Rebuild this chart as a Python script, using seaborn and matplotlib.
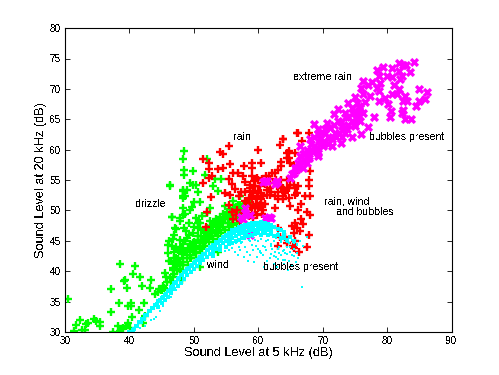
import matplotlib
matplotlib.use('Agg')
import matplotlib.pyplot as plt
import seaborn as sns

# sound level at 5 kHz / 20 kHz (dB)
drizzle_x = [30.5,31.4,31.8,32.4,32.6,33.1,33.6,33.3,34.5,34.9,35.5,35.4,37.1,37.1,38.4,38.6,39.2,39.4,39.6,40.5,40.9,41.7,42.0,43.2,43.4,39.8,40.2,40.2,41.5,42.2,40.4,42.5,42.1,37.5,38.3,38.5,38.8,39.0,39.5,39.8,40.1,44.4,45.0,45.5,45.7,46.8,46.1,
             46.3,48.3,48.6,48.4,49.0,48.4,48.6,46.6,47.9,48.5,47.2,47.0,46.8,46.2,46.0,48.1,49.0,47.5,47.0,46.5,48.3,47.9,
             48.5,48.3,52,48.5,48.5,49.9,51.7,49.4,49.9,50.4,48.4,48.4,50.7,53.3,54.3,53,53.8,46.3,50,51,49.7,49.4,52.5,52,54.8,57.2,56.1,56.9,56.4,57.4,58.7,48.4,47.9,46.6,47.1,50.4,51,50.7,51.5,
             46.8,47.3,47.9,46.9,47.9,48.9,49.4,49.9,50.2,51,51.5,52,52.8,53,54,54.6,55.4,55.6,53.8,51,48.1,48.4,49.4,50.4,49.1,47.9,52,50.7,49.9,52.5,53.5,54,53.3,51.2,47.3,46.8,48.4,
             44.6,45.2,45.8,46.3,46.9,47.4,47.9,48.4,48.9,49.4,49.9,50.4,50.9,51.4,51.9,52.4,52.9,53.4,53.9,54.4,54.9,55.4,55.9,56.4,56.9,57.4,
             47.1,47.6,48.1,48.6,49.1,49.6,50.1,50.6,51.1,51.6,52.1,52.6,53.1,53.6,54.1,54.6,55.1,55.6,56.1,56.6,57.1,57.6,58.1,
             44,44.9,45.4,46.5,46,46.6,47.2,47.8,48.6,49.3,50,49.2,50.6,51.2,48.8,
             49.5,50.3,51,51.7,52.4,53,53.7,54.3,54.9,55.5,56.1,56.7,57.3,50.9,51.8,52.7,53.6,54.5,55.3,56,56.8,57.5,58.2]
drizzle_y = [35.4,30.2,31.2,32.0,30.3,30.3,31.4,31.3,32.2,31.8,31.7,31.0,33.3,37.1,34.8,41.2,38.3,38.6,37.2,39.6,40.9,39.0,37.6,37.2,38.5,34.2,34.7,34.3,33.6,34.7,32.4,32.6,31.5,30.05,31.0,30.1,30.4,30.7,30.9,31.4,30.6,36.5,36.9,39.7,39.0,40.5,41.6,
             54.1,53.2,52.3,52.0,53.3,50.4,49.4,48.9,48.7,47.1,46.9,45.9,45.3,44.9,44.3,43.7,43.3,43.5,42.2,41.6,41.0,40.4,
             59.8,58.5,58.5,56.6,55.9,56.5,55.9,54.5,54.2,54.2,53.3,52.3,53.1,55.1,55.1,54,53.2,54,51.3,51.3,50.6,50,50.4,49.6,50.7,52.3,51.5,50.9,50.1,49.9,51.1,49.3,48.2,48.9,47.1,48.8,47.9,47.1,46.8,
             39.1,40.8,41.3,43.2,45.2,45.4,44.4,44.6,43.2,44.1,44.6,45.7,46.3,47.4,47.6,48.5,47.9,48.9,43.1,40.7,38.6,42.1,42.1,42.1,41,40,47.1,45.7,46.3,48.2,48.5,46.8,46.3,43,42.1,40.2,44.4,
             37,37.5,38.2,38.8,39.5,40.2,41,41.5,42.2,42.7,43.4,43.9,44.6,45.2,45.6,46.2,46.6,47.2,47.6,48,48.6,49,49.4,49.6,49.8,50.2,
             41.4,42,42.8,43.2,43.8,44.2,44.8,45.2,45.8,46.4,47,47.4,47.9,48.3,48.9,49.4,49.8,50.2,50.4,50.6,50.9,51,50.5,
             36.2,36.9,37.2,38.2,43,44.2,44,43.6,45,45.9,47.2,47.9,48,49,46.6,
             42.2,43,43.6,44.2,44.8,45.3,45.8,46.3,46.8,47.2,47.6,47.9,48.2,43.9,44.9,45.8,46.6,47.3,47.9,48.4,48.8,49.1,49.4]

rain_x = [55.4,54.1,54.6,51.4,52.3,55.6,59.9,63.8,63.4,66,52.4,53.8,54.5,59.1,60.5,57.8,59,56.1,56.9,57.7,59,59.8,52.8,52.3,51.4,55.4,55.9,54.8,55.6,52.6,52,51.9,
          58.7,59.5,60.3,61,61.8,62.6,63.1,62.1,61.6,58.7,59.2,60,60.5,61.3,61.8,62.9,58.5,59,59.8,60.5,61.8,57.9,59.2,60,60.8,59,59.8,60.3,63.9,64.7,65.7,64.2,66,64.7,63.9,63.1,62.6,64.4,64.7,65,66.2,66.7,67.5,66.2,65.7,65.2,65.5,64.2,63.1,63.4,65.7,65.6,66.4,67.5,63.1,67.8,56.7,55.4,56.1,
          66.2,67.9,63.8,66.8,64.7,64.4,65.7,63.6,65.5,68,67.9,67.8,65.5,66.2,64.4,63.6,63.9,65.7,67.3,68,
          58,58.8,59.4,60,60.6,61.2,60,60.8,61.4,59,58.2,58.8,59.6,60.4,61,62,62.4,62.8,63.5,57.4,57,56.4,58,59.5,60.6,59.2,58.6,57.6,56.6,55.9,57.2,63.6,64.4,64.9,62.6,63.1,65,66.6,67,68,66,66.5,65.4,64.5]
rain_y = [60.6,59.6,59.2,58.5,57.8,57.6,60,61.7,60.7,62.7,56.8,56.8,57,57.8,57.8,57.3,57,56.2,56.2,55.6,55.6,55.3,55.6,55.4,54.5,55.2,54.4,52.9,52.6,52.2,49.7,47.2,
          53.7,54,54,54.3,55.1,56.2,56.7,56.2,55.6,53.2,52.9,53.2,52.9,53.4,53.7,54,52,51.8,52,51.8,52.6,51.5,50.9,50.4,50.1,49.6,49.3,50.9,53.7,53.7,53.7,52.9,52.9,52,51.8,51.8,50.4,59.5,58.7,57.8,56.7,51,49.8,50.1,47.9,47.4,46.3,45.6,47.1,45.6,44.9,43.8,43.1,43.9,44.1,46,50.1,50.9,48.5,
          62.8,62.8,61.8,61.4,59.7,58.7,59.5,57.3,57.5,56.5,55,54,54.2,54,53.7,53.8,52.3,52.6,52.3,52.3,
          53,54.2,54.8,55,55.2,55.6,52.4,52.4,52.6,52.4,51.2,50.6,51,51.2,51,53,54.5,55,58,53,52.3,53.6,54.7,50.4,49.4,48.8,49,49.5,49.2,49.8,48.3,55,55,54.2,52.4,53,50.8,48.6,47.7,49.2,47.1,46.6,44.2,44.6]

extreme_x = [84.2,81.8,82.5,83,79.3,80.7,78.4,81.8,83.5,78.7,80,80.7,82.3,76.3,77.6,78.9,82,76,77.1,78.4,81,81.8,84.9,86.2,78.7,75,76.3,77.4,80.7,81.5,82.8,78.7,79.7,82.5,83.1,84.9,85.9,74,75.3,76.6,80.2,84.5,72.4,74.5,75.8,80.6,82.5,71.7,73.5,75,76.3,82.3,74,75.6,77.9,80.4,82.8,83.7,68.6,70.6,72.4,74.5,75.8,77.1,69.3,71.2,73,75,76,74.5,69.3,70.4,71.9,73.5,69.6,70.9,73,72.9,68,70.1,71.4,68.6,66.5,69.3,68.3,67.3,66.5,67.8,69.3,66.2,67.5,67,65.7,65.5,64.9,
             61,62.9,58,57.7,61.6,58.7,
             65.3,65.8,66.2,66.8,67.2,67.9,68.7,69.1,69.6,70.3,70.8,71.4,72,72.6,73.2,73.8,74,74.9,75.4,75.6,75.6,74.7,73.6,72.9,71.8,70.4,69.9,68.7,68.2,67.6,67,
             58,58.7,60.8,61.4,62.9,62.6,61,62,57.4,58.5]
extreme_y = [74.4,74.2,74,73.9,73.6,73.4,73.1,72.9,72.8,72.1,72.1,71.9,72.1,71.3,71.1,71,71.6,70.2,70.6,70.2,70.6,69.9,70,69.5,69.7,68.7,69.1,68.8,69.1,69.1,68.8,68,68.5,68,68,68,68.3,67.6,67.7,67.8,67.5,67.2,66.7,66.9,66.9,66.4,66.6,65.8,66.1,66.1,66.1,66.1,65.3,65.5,65.3,65.3,65.1,65,64.3,64.4,64.7,64.7,64.7,63.7,63.4,63.6,63.9,63.9,62.5,62.1,62.5,62.8,62.8,62.8,61.7,62,62,61.1,61.7,60.6,60.6,60.6,60.6,59.5,59.7,59.5,58.9,58.6,58.9,57.8,57.8,57,57,56.2,55.3,
             54.8,54.6,50.4,48.6,48.9,46,
             56,56.6,57.2,58,58.3,59,59.8,60.2,60.9,61.3,61,61.7,62,62.8,63.2,63.4,64,64.3,65.1,66.3,67.1,66,65.4,64.6,64,63.4,62.9,62,60.9,60,59.2,
             49.6,49.2,54.6,54.9,54.9,54.4,48.8,48.8,48.9,46.3]

# solid part of the cyan curve
band_x = [40,40.5,41,41.5,42,42.5,43,43.5,44,44.5,45,45.5,46,46.5,47,47.5,48,48.5,49,49.5,50,50.5,51,51.5,52,52.5,53,53.5,54,54.5,55,55.5,56,56.5,57,57.5,58,58.5,59,59.5,60,60.5,61,61.5,62,
          40.25,40.75,41.25,41.75,42.25,42.75,43.25,43.75,44.25,44.75,45.25,45.75,46.25,46.75,47.25,47.75,48.25,48.75,49.25,49.75,50.25,50.75,51.25,51.75,52.25,52.75,53.25,53.75,54.25,54.75,55.25,55.75,56.25,56.75,57.25,57.75,58.25,58.75,59.25,59.75,60.25,60.75,61.25,61.75,
          44.5,45,45.5,46,46.5,47,47.5,48,48.5,49,49.5,50,50.5,51,51.5,52,52.5,53,53.5,54,54.5,55,55.5,56,56.5,57,57.5,58,58.5,59,59.5,60,60.5,61,61.5,62,62.5,63,63.5,64,
          53,54,55,56,57,58,59,60,61,62,63,64,65,55.5,56.5,57.5,58.5,59.5,60.5,61.5,62.5,63.5,64.5,65.5]
band_y = [29.9,30.3,30.9,31.6,32.2,32.7,33.4,33.9,34.5,35.1,35.6,36.1,36.7,37.4,38.1,38.7,39.3,39.9,40.4,40.9,41.4,41.9,42.4,42.9,43.4,43.9,44.3,44.8,45.2,45.6,46,46.3,46.7,46.9,47.2,47.4,47.6,47.8,47.9,48,48,48.1,48,47.8,47.6,
          29.8,30.4,31,31.7,32.2,32.8,33.4,34,34.6,35.2,35.7,36.3,36.9,37.6,38.2,38.8,39.4,40,40.5,41,41.5,42,42.5,42.9,43.4,43.8,44.2,44.6,45,45.4,45.8,46.1,46.3,46.6,46.8,47,47.2,47.4,47.5,47.6,47.6,47.6,47.5,47.3,
          34.1,34.7,35.2,35.8,36.4,37,37.6,38.1,38.7,39.3,39.8,40.3,40.8,41.3,41.8,42.3,42.8,43.2,43.7,44.1,44.6,44.9,45.2,45.5,45.8,46.1,46.3,46.5,46.6,46.7,46.8,46.9,46.9,46.9,46.8,46.7,47.2,47,46.8,46.5,
          42.5,43.4,44,44.7,45.2,45.7,46,46.2,46.3,46.1,46,45.7,45.6,44.5,45,45.5,45.8,46.1,46,45.9,45.7,45.4,45.2,44.9]

# thin scatter under the curve
fan_x = [50.2,51.4,52.6,53.8,55,56.2,57.4,58.6,59.8,61,62.2,63.4,
         54.6,55.8,57,58.2,59.4,60.6,61.8,63,64.2,55.2,56.6,58,59.2,60.4,61.6,62.8,64,65.2,57.4,58.8,60,61.2,62.4,63.6,64.8,66,59.6,60.8,62,63.2,64.4,65.6,
         41.6,42.4,43.4,44.2,44.8,45.2,42.9,43.9,46.4,47.2,41.8,46,62.6,63.8,65,67,66.8,60.2,62.4,67.6,
         56,57,58,59,60,61,62,63,64,65,66,60.5,62,63.5,64.5,65.5,63,64.2,66,58.5,59.5,60.5,61.5,62.5,63.5,64.5,65.5,66.5,57.5,
         54.8,55.5,56.4,57.2,58.2,59.2,60.2,61.2,62.2,63.2,64.2,65.2,66.2,56.8,57.8,58.8,59.8,60.8,61.8,62.8,63.8,64.8,65.8,58.4,59.4,61.4,62.4,64,65.2,60.9,62.9,64.6]
fan_y = [41.4,42.6,43.7,44.7,45.6,46.4,46.9,47,47.1,47,46.9,46.7,
         44.5,45.2,46,46.2,46.4,46.4,46.3,46.2,46,44.1,44.6,45.3,45.6,45.7,45.7,45.5,45.3,45.1,44.7,44.9,45,45,44.9,44.8,44.6,44.4,44.2,44.2,44.1,44,43.9,43.7,
         30.6,31,31.9,32.4,33.4,34.3,33.1,32.1,35.8,36.9,31.8,36.6,43.1,43.3,43.2,44.2,37.4,43.3,42.5,45.6,
         43.8,44,43.9,44.3,43.7,43.9,44.4,43.6,43.5,43.9,44.3,43,42.8,42.6,42.8,42.5,42,41.8,43,45.1,45.2,45.3,45.2,45,44.9,44.8,44.6,44.9,44.8,
         43.3,43.4,43.1,43.4,43.2,43.5,43.2,43.4,43.6,43,43,42.6,42.2,42.6,42.4,42.7,42.3,42.6,42.1,42.4,41.9,41.7,41.5,41.6,41.5,41.7,41.2,41.1,40.9,40.6,40.7,40.2]

labels = ['extreme rain', 'rain', 'drizzle', 'bubbles present', 'rain, wind', 'and bubbles', 'wind', 'bubbles present']
label_x = [65.4, 56.2, 41.0, 77.2, 70.2, 72.0, 52.0, 60.7]
label_y = [71.9, 62.0, 51.1, 62.0, 51.5, 49.8, 41.0, 40.7]

sns.set_style('white')
plt.rcParams['font.family'] = ['Liberation Sans', 'DejaVu Sans']
plt.rcParams['text.antialiased'] = False

fig, ax = plt.subplots(figsize=(4.99, 3.75), dpi=100)
fig.subplots_adjust(left=0.13, right=0.905, bottom=0.115, top=0.925)

sns.scatterplot(x=drizzle_x, y=drizzle_y, marker='+', color='#00ff00', s=30, linewidth=1.7, ax=ax, antialiased=False)
sns.scatterplot(x=rain_x, y=rain_y, marker='+', color='#ff0000', s=30, linewidth=1.7, ax=ax, antialiased=False)
sns.scatterplot(x=extreme_x, y=extreme_y, marker='x', color='#ff00ff', s=24, linewidth=2.4, ax=ax, antialiased=False)
sns.scatterplot(x=band_x, y=band_y, marker='s', color='#00ffff', s=7, linewidth=0, ax=ax)
sns.scatterplot(x=fan_x, y=fan_y, marker='s', color='#00ffff', s=1.6, linewidth=0, ax=ax)

for t, x, y in zip(labels, label_x, label_y):
    ax.text(x, y, t, fontsize=7.6, color='black', va='center')

ax.set_xlim(30, 90)
ax.set_ylim(30, 80)
ax.set_xticks(range(30, 91, 10))
ax.set_yticks(range(30, 81, 5))
ax.tick_params(direction='in', length=3.5, width=0.6, labelsize=7.2, top=True, right=True, bottom=True, left=True, pad=3, color='black', labelcolor='black')
for s in ax.spines.values():
    s.set_color('black')
    s.set_linewidth(0.8)
ax.set_xlabel('Sound Level at 5 kHz (dB)', fontsize=9.2, color='black', labelpad=1)
ax.set_ylabel('Sound Level at 20 kHz (dB)', fontsize=9.2, color='black', labelpad=2)

plt.savefig('out.png', dpi=100)
